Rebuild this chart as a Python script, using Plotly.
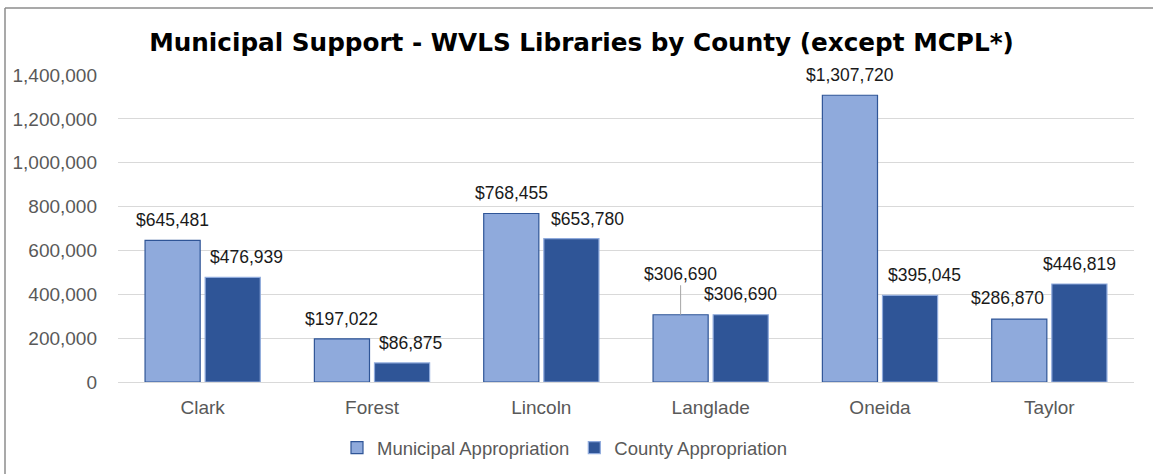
import plotly.graph_objects as go

categories = ["Clark", "Forest", "Lincoln", "Langlade", "Oneida", "Taylor"]
municipal = [645481, 197022, 768455, 306690, 1307720, 286870]
county = [476939, 86875, 653780, 306690, 395045, 446819]
series_names = ["Municipal Appropriation", "County Appropriation"]
y_ticks = [0, 200000, 400000, 600000, 800000, 1000000, 1200000, 1400000]

TITLE = "Municipal Support - WVLS Libraries by County (except MCPL*)"

LIGHT = "#8FAADC"
DARK = "#2F5597"
LABEL_FONT = "Liberation Sans, Arial, sans-serif"

W, H = 1153, 474
ML, MR, MT, MB = 118, 19, 75, 92
plot_w = W - ML - MR
plot_h = H - MT - MB

fig = go.Figure()
fig.add_trace(go.Bar(
    name=series_names[0], x=categories, y=municipal,
    marker=dict(color=LIGHT, line=dict(color=DARK, width=1.2)),
))
fig.add_trace(go.Bar(
    name=series_names[1], x=categories, y=county,
    marker=dict(color=DARK, line=dict(color=LIGHT, width=1.2)),
))

bargap = 0.29
slot_px = plot_w / len(categories) * (1 - bargap) / 2
offsets = [-slot_px / 2, slot_px / 2]

# label nudges (pixels) for labels moved aside to avoid overlaps, as in the original
nudges = {
    (1, "Clark"): (14, 0), (1, "Forest"): (8, 0), (1, "Lincoln"): (16, 0),
    (1, "Oneida"): (14, 0), (1, "Langlade"): (0, 1), (0, "Taylor"): (-12, 1),
}
leader = {(0, "Langlade"): -41}

for si, vals in enumerate([municipal, county]):
    for cat, v in zip(categories, vals):
        dx, dy = nudges.get((si, cat), (0, 0))
        txt = "${:,}".format(v)
        if (si, cat) in leader:
            fig.add_annotation(
                x=cat, y=v, text=txt, xshift=offsets[si] + dx,
                showarrow=True, ax=0, ay=leader[(si, cat)], arrowhead=0,
                arrowcolor="#a6a6a6", arrowwidth=1, standoff=0,
                font=dict(family=LABEL_FONT, size=17.5, color="#1a1a1a"),
            )
        else:
            fig.add_annotation(
                x=cat, y=v, text=txt, xshift=offsets[si] + dx, yshift=20 + dy,
                showarrow=False, yanchor="middle", xanchor="center",
                font=dict(family=LABEL_FONT, size=17.5, color="#1a1a1a"),
            )

# outer chart border (top and left edges visible)
px0 = (5 - ML) / plot_w
py1 = 1 + (MT - 8) / plot_h
border = dict(color="#8c8c8c", width=1.5)
fig.add_shape(type="line", xref="paper", yref="paper",
              x0=px0, x1=1.05, y0=py1, y1=py1, line=border, layer="below")
fig.add_shape(type="line", xref="paper", yref="paper",
              x0=px0, x1=px0, y0=-0.5, y1=py1, line=border, layer="below")

fig.update_layout(
    width=W, height=H,
    margin=dict(l=ML, r=MR, t=MT, b=MB, pad=0, autoexpand=False),
    paper_bgcolor="white", plot_bgcolor="white",
    barmode="group", bargap=bargap, bargroupgap=0.083,
    title=dict(text="<b>" + TITLE + "</b>", x=581.5 / W, xanchor="center",
               y=1 - 42 / H, yanchor="middle",
               font=dict(family="DejaVu Sans, Verdana, sans-serif", size=24.7, color="#000000")),
    legend=dict(orientation="h", x=(565 - ML) / plot_w, xanchor="center",
                y=-(448 - (H - MB)) / plot_h, yanchor="middle",
                font=dict(family=LABEL_FONT, size=18.5, color="#595959"),
                itemwidth=30, tracegroupgap=0),
    showlegend=True,
    xaxis=dict(showgrid=False, showline=True, linecolor="#d9d9d9", linewidth=1,
               ticks="outside", ticklen=0, ticklabelstandoff=8,
               tickfont=dict(family=LABEL_FONT, size=19, color="#595959")),
    yaxis=dict(range=[0, 1400000], tickvals=y_ticks, tickformat=",",
               showgrid=True, gridcolor="#d9d9d9", gridwidth=1,
               zeroline=True, zerolinecolor="#d9d9d9", zerolinewidth=1,
               showline=False, ticks="", ticklabelstandoff=20,
               tickfont=dict(family=LABEL_FONT, size=19, color="#595959")),
)

fig.write_html("out.html", config={"displayModeBar": False},
               post_script="document.body.style.margin='0';")
